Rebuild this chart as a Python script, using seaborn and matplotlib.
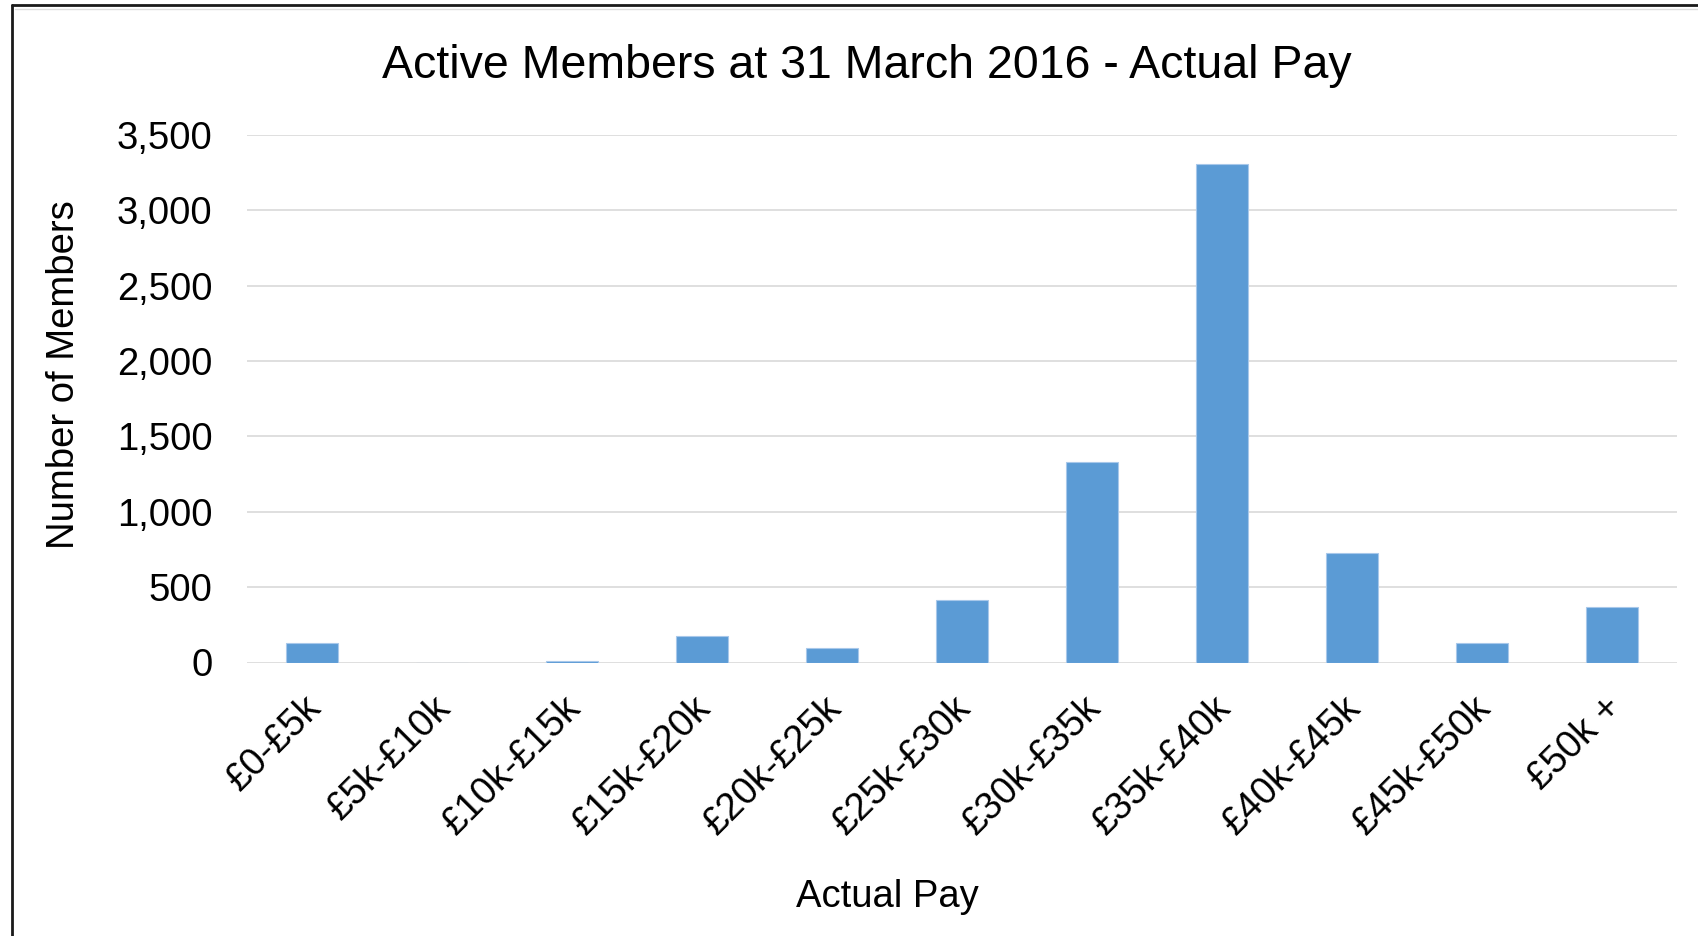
import matplotlib
matplotlib.use("Agg")
import matplotlib.pyplot as plt
import matplotlib.transforms as mtransforms
from matplotlib.lines import Line2D
import seaborn as sns

# data
pay_bands = ["£0-£5k", "£5k-£10k", "£10k-£15k", "£15k-£20k", "£20k-£25k",
             "£25k-£30k", "£30k-£35k", "£35k-£40k", "£40k-£45k", "£45k-£50k",
             "£50k +"]
members = [130, 0, 12, 175, 95, 415, 1330, 3305, 725, 130, 365]
y_ticks = [0, 500, 1000, 1500, 2000, 2500, 3000, 3500]

sns.set_style("white")
plt.rcParams["font.family"] = ["Liberation Sans", "DejaVu Sans"]
plt.rcParams["text.color"] = "black"
plt.rcParams["axes.labelcolor"] = "black"

fig = plt.figure(figsize=(16.99, 9.36), dpi=100)
ax = fig.add_axes([247 / 1699, 1 - 662.5 / 936, 1430 / 1699, 527.5 / 936])

sns.barplot(x=pay_bands, y=members, color="#5B9BD5", saturation=1,
            width=0.4, edgecolor="#A8C8EA", linewidth=0.8, ax=ax, zorder=3)

ax.set_ylim(0, 3500)
ax.set_xlim(-0.5, len(pay_bands) - 0.5)
ax.set_yticks(y_ticks)
ax.set_yticklabels([f"{v:,}" for v in y_ticks])
ax.yaxis.grid(True, color="#D9D9D9", linewidth=1.2, zorder=0)
ax.set_axisbelow(True)
for s in ax.spines.values():
    s.set_visible(False)
ax.tick_params(axis="both", length=0, labelsize=27.5, colors="#000000")
ax.tick_params(axis="y", pad=25)
ax.tick_params(axis="x", pad=19.5)

for lab in ax.get_xticklabels():
    lab.set_rotation(45)
    lab.set_ha("right")
    lab.set_va("top")
    lab.set_rotation_mode("anchor")
    lab.set_transform(lab.get_transform() +
                      mtransforms.ScaledTranslation(-9 / 100, 0, fig.dpi_scale_trans))

ax.set_title("Active Members at 31 March 2016 - Actual Pay", fontsize=33.5,
             x=(867 - 247) / 1430, y=(662.5 - 78.5) / 527.5, pad=0, va="baseline")
ax.set_xlabel("Actual Pay", fontsize=27.5)
ax.xaxis.set_label_coords((887 - 247) / 1430, (662.5 - 879) / 527.5)
ax.set_ylabel("Number of Members", fontsize=27.5)
ax.yaxis.set_label_coords((82 - 247) / 1430, (662.5 - 375) / 527.5)

# screenshot frame (left and top edges)
fig.add_artist(Line2D([12 / 1699, 12 / 1699], [0, 1 - 5 / 936],
                      transform=fig.transFigure, color="#1a1a1a", linewidth=2))
fig.add_artist(Line2D([12 / 1699, 1], [1 - 5 / 936, 1 - 5 / 936],
                      transform=fig.transFigure, color="#1a1a1a", linewidth=2))
fig.add_artist(Line2D([15 / 1699, 1], [1 - 8.5 / 936, 1 - 8.5 / 936],
                      transform=fig.transFigure, color="#DDDDDD", linewidth=1))

fig.savefig("out.png", dpi=100, facecolor="white")
